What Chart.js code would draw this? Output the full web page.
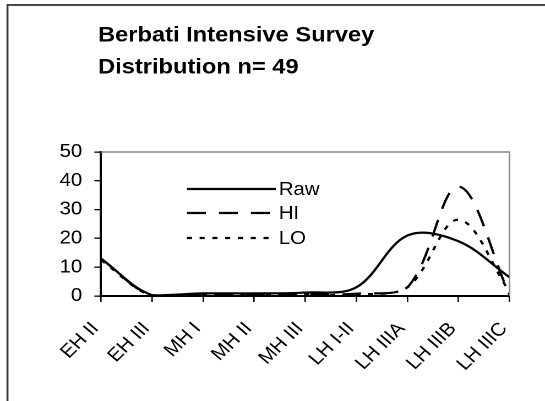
<!DOCTYPE html>
<html>
<head>
<meta charset="utf-8">
<script src="https://cdn.jsdelivr.net/npm/chart.js@4.4.1/dist/chart.umd.min.js"></script>
<style>
  html, body { margin: 0; padding: 0; background: #fff; }
</style>
</head>
<body>
<!-- the original picture is a little stretched sideways, so the canvas is drawn narrower and shown at 545 -->
<canvas id="c" width="495" height="401" style="width:545px;height:401px;display:block"></canvas>
<script>
// ── data ─────────────────────────────────────────────────────────────────────
const periods = ['EH II', 'EH III', 'MH I', 'MH II', 'MH III', 'LH I-II', 'LH IIIA', 'LH IIIB', 'LH IIIC'];
const rawValues = [13, 0.3, 0.9, 0.9, 1.2, 3, 21, 19, 6.5];
const hiValues  = [13, 0, 0.7, 0.6, 0.5, 0.8, 3, 38, 0.5];
const loValues  = [12.5, 0, 0.5, 0.5, 0.5, 0.5, 3, 26.5, 1.5];
const yTicks = [0, 10, 20, 30, 40, 50];
const titleLines = ['Berbati Intensive Survey', 'Distribution n= 49'];

const FONT = '"Liberation Sans", Arial, sans-serif';

// white page + outer frame + grey plot-area edge (top and right)
const framePlugin = {
  id: 'frame',
  beforeDraw(chart) {
    const ctx = chart.ctx;
    ctx.save();
    ctx.fillStyle = '#fff';
    ctx.fillRect(0, 0, chart.width, chart.height);
    ctx.strokeStyle = '#333';
    ctx.lineWidth = 1.8;
    ctx.strokeRect(6.8, 5, chart.width + 20, chart.height + 20);
    ctx.restore();
  },
  afterDraw(chart) {
    const a = chart.chartArea, ctx = chart.ctx;
    ctx.save();
    ctx.strokeStyle = '#888';
    ctx.lineWidth = 1.5;
    ctx.beginPath();
    ctx.moveTo(a.left, a.top);
    ctx.lineTo(a.right, a.top);
    ctx.lineTo(a.right, a.bottom);
    ctx.stroke();
    ctx.restore();
  }
};

// left-aligned two-line title block
const titlePlugin = {
  id: 'leftTitle',
  afterDraw(chart) {
    const ctx = chart.ctx;
    ctx.save();
    ctx.fillStyle = '#000';
    ctx.font = 'bold 21.5px ' + FONT;
    ctx.textAlign = 'left';
    ctx.textBaseline = 'alphabetic';
    ctx.fillText(titleLines[0], 89, 41.5);
    ctx.fillText(titleLines[1], 89, 73.3);
    ctx.restore();
  }
};

// legend sitting inside the plot area, long line samples then the label
const innerLegend = {
  id: 'innerLegend',
  afterDatasetsDraw(chart) {
    const a = chart.chartArea, ctx = chart.ctx;
    const rows = [37, 61, 86];
    ctx.save();
    chart.data.datasets.forEach((ds, i) => {
      const y = a.top + rows[i];
      ctx.strokeStyle = '#000';
      ctx.lineWidth = ds.borderWidth;
      ctx.setLineDash(ds.borderDash || []);
      ctx.beginPath();
      ctx.moveTo(a.left + 78, y);
      ctx.lineTo(a.left + 159, y);
      ctx.stroke();
      ctx.setLineDash([]);
      ctx.fillStyle = '#000';
      ctx.font = '18.5px ' + FONT;
      ctx.textAlign = 'left';
      ctx.textBaseline = 'middle';
      ctx.fillText(ds.label, a.left + 161.5, y + 1);
    });
    ctx.restore();
  }
};

const lineStyle = { borderColor: '#000', borderWidth: 2.2, pointRadius: 0, tension: 0.35, fill: false };

new Chart(document.getElementById('c'), {
  type: 'line',
  data: {
    labels: periods,
    datasets: [
      Object.assign({ label: 'Raw', data: rawValues, borderDash: [] }, lineStyle),
      Object.assign({ label: 'HI', data: hiValues, borderDash: [17.3, 11.8] }, lineStyle),
      Object.assign({ label: 'LO', data: loValues, borderDash: [4.6, 7] }, lineStyle)
    ]
  },
  options: {
    responsive: false,
    devicePixelRatio: 2,
    animation: false,
    layout: { padding: { left: 0, right: 30, top: 152, bottom: 0 } },
    plugins: { legend: { display: false }, title: { display: false }, tooltip: { enabled: false } },
    scales: {
      x: {
        offset: false,
        grid: { offset: false, drawOnChartArea: false, tickLength: 6, color: '#000', lineWidth: 1.3 },
        border: { color: '#000', width: 2 },
        ticks: {
          color: '#000', font: { family: FONT, size: 18.5 },
          minRotation: 47, maxRotation: 47, padding: 16, labelOffset: -5, autoSkip: false
        },
        afterFit(scale) { scale.height = 105; }
      },
      y: {
        min: 0,
        max: 50,
        afterBuildTicks(scale) { scale.ticks = yTicks.map(v => ({ value: v })); },
        grid: { drawOnChartArea: false, tickLength: 6, color: '#000', lineWidth: 1.3 },
        border: { color: '#000', width: 2 },
        ticks: { color: '#000', font: { family: FONT, size: 18.5 }, padding: 11 },
        afterFit(scale) { scale.width = 91.7; }
      }
    }
  },
  plugins: [framePlugin, titlePlugin, innerLegend]
});
</script>
</body>
</html>
